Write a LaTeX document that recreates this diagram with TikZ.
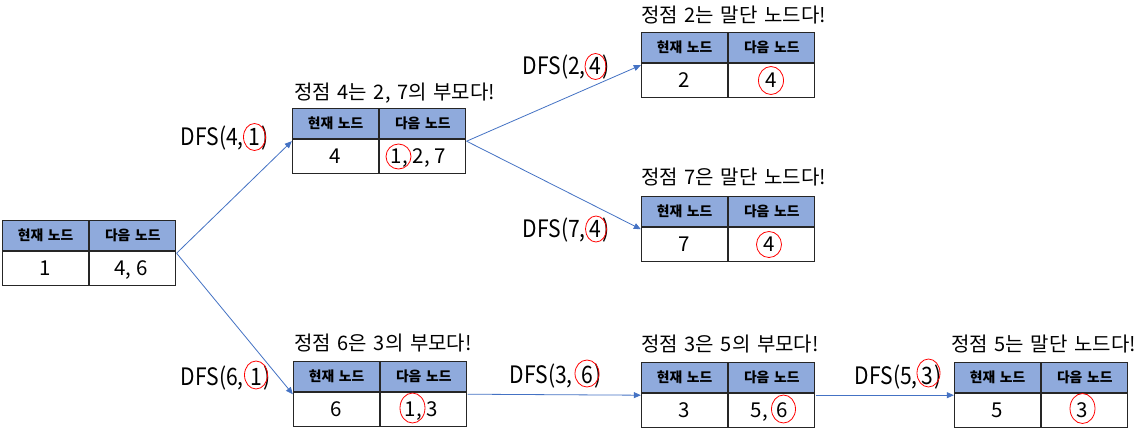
\documentclass[tikz,border=0pt]{standalone}
\usepackage{fontspec}
\setmainfont{Noto Sans CJK KR}
\newfontfamily\ttlfont[WordSpace=1.9]{Noto Sans CJK KR}
\newfontfamily\hdrfont[WordSpace=1.5]{Noto Sans CJK KR}
\newfontfamily\dfsfont[FakeStretch=0.88]{Noto Sans CJK KR}
\usetikzlibrary{arrows.meta,fit}
\definecolor{hdrblue}{HTML}{8FAADC}
\definecolor{arrblue}{HTML}{4472C4}
\definecolor{tblline}{HTML}{262626}
\newcommand{\mktable}[3]{%
  \node[hdr] (#1h1) at (#2,#3) {현재 노드};
  \node[hdr] (#1h2) at (#1h1.north east) {다음 노드};
  \node[valc] (#1v1) at (#1h1.south west) {};
  \node[valc] (#1v2) at (#1h2.south west) {};
  \node[fit=(#1h1)(#1v2), inner sep=0pt] (#1) {};
}
\begin{document}
\begin{tikzpicture}[x=1pt,y=-1pt,
  hdr/.style={draw=tblline, line width=1.2pt, fill=hdrblue, minimum width=86pt, minimum height=30pt, inner sep=0pt, anchor=north west, font=\hdrfont\fontsize{13.8}{14}\selectfont\bfseries},
  valc/.style={draw=tblline, line width=1.2pt, fill=white, minimum width=86pt, minimum height=34pt, inner sep=0pt, anchor=north west},
  vtxt/.style={inner sep=0pt, anchor=base, font=\fontsize{20.5}{22}\selectfont},
  vtail/.style={inner sep=0pt, anchor=base west, font=\fontsize{20.5}{22}\selectfont},
  vhead/.style={inner sep=0pt, anchor=base east, font=\fontsize{20.5}{22}\selectfont},
  ttl/.style={inner sep=0pt, anchor=base west, font=\ttlfont\fontsize{20}{22}\selectfont},
  dfsd/.style={inner sep=0pt, anchor=base, font=\dfsfont\fontsize{24}{26}\selectfont},
  dfsl/.style={inner sep=0pt, anchor=base east, font=\dfsfont\fontsize{24}{26}\selectfont},
  dfsr/.style={inner sep=0pt, anchor=base west, font=\dfsfont\fontsize{24}{26}\selectfont},
  ring/.style={draw=red, line width=0.8pt},
  link/.style={draw=arrblue, line width=0.8pt, -{Triangle[length=7pt,width=6pt]}},
]
\fill[white] (0,0) rectangle (1143,437);
\useasboundingbox (0,0) rectangle (1143,437);

% tables
\mktable{t1}{2}{220}
\mktable{t2}{292}{108}
\mktable{t3}{641}{32}
\mktable{t4}{641}{196}
\mktable{t5}{293}{361}
\mktable{t6}{641}{362}
\mktable{t7}{954}{362}

% titles
\node[ttl] (n2) at (294,99) {정점 4는 2, 7의 부모다!};
\node[ttl] (n3) at (641,22) {정점 2는 말단 노드다!};
\node[ttl] (n4) at (641,184) {정점 7은 말단 노드다!};
\node[ttl] (n5) at (294,350) {정점 6은 3의 부모다!};
\node[ttl] (n6) at (641,351) {정점 3은 5의 부모다!};
\node[ttl] (n7) at (951,351) {정점 5는 말단 노드다!};

% values
\node[vtxt] (t1a) at (45,275.5) {1};
\node[vtxt] (t1b) at (131,275.5) {4, 6};

\node[vtxt] (t2a) at (335,163.5) {4};
\node[vtxt] (t2c) at (396.5,163.5) {1};
\node[vtail] (t2d) at (t2c.base east) {, 2, 7};
\draw[ring] (398.5,156.5) ellipse [x radius=12.5, y radius=12.5];

\node[vtxt] (t3a) at (684,87.5) {2};
\node[vtxt] (t3c) at (771,87.5) {4};
\draw[ring] (771,80.5) ellipse [x radius=12.5, y radius=14];

\node[vtxt] (t4a) at (684,251.5) {7};
\node[vtxt] (t4c) at (769,251.5) {4};
\draw[ring] (769,244.5) ellipse [x radius=12.5, y radius=13];

\node[vtxt] (t5a) at (336.5,416.5) {6};
\node[vtxt] (t5c) at (410,416.5) {1};
\node[vtail] (t5d) at (t5c.base east) {, 3};
\draw[ring] (412.5,408) ellipse [x radius=12.5, y radius=15];

\node[vtxt] (t6a) at (684,417.5) {3};
\node[vtxt] (t6c) at (782,417.5) {6};
\node[vhead] (t6d) at ([xshift=-8pt]t6c.base west) {5,};
\draw[ring] (783.5,409) ellipse [x radius=12, y radius=14];

\node[vtxt] (t7a) at (997.5,417.5) {5};
\node[vtxt] (t7c) at (1082,417.5) {3};
\draw[ring] (1082.5,408.5) ellipse [x radius=12.5, y radius=15];

% DFS labels
\node[dfsd] (d41) at (254,145) {1};
\node[dfsl] (d41l) at (244,145) {DFS(4,};
\node[dfsr] (d41r) at ([xshift=1pt]d41.base east) {)};
\draw[ring] (254.5,137) ellipse [x radius=11, y radius=13.5];

\node[dfsd] (d24) at (595,74) {4};
\node[dfsl] (d24l) at (586,74) {DFS(2,};
\node[dfsr] (d24r) at ([xshift=1pt]d24.base east) {)};
\draw[ring] (595.5,66.5) ellipse [x radius=10.5, y radius=13];

\node[dfsd] (d74) at (595,237) {4};
\node[dfsl] (d74l) at (586,237) {DFS(7,};
\node[dfsr] (d74r) at ([xshift=1pt]d74.base east) {)};
\draw[ring] (596,229) ellipse [x radius=10.5, y radius=13];

\node[dfsd] (d61) at (256,385) {1};
\node[dfsl] (d61l) at (244,385) {DFS(6,};
\node[dfsr] (d61r) at ([xshift=1pt]d61.base east) {)};
\draw[ring] (256,375) ellipse [x radius=11.5, y radius=14];

\node[dfsd] (d36) at (587.5,383) {6};
\node[dfsl] (d36l) at (573,383) {DFS(3,};
\node[dfsr] (d36r) at ([xshift=1pt]d36.base east) {)};
\draw[ring] (587,373.5) ellipse [x radius=12, y radius=13.5];

\node[dfsd] (d53) at (927.5,384) {3};
\node[dfsl] (d53l) at (918,384) {DFS(5,};
\node[dfsr] (d53r) at ([xshift=1pt]d53.base east) {)};
\draw[ring] (928.5,373) ellipse [x radius=11.5, y radius=14];

% connectors
\draw[link] (t1.east) -- (t2.west);
\draw[link] (t1.east) -- (t5.west);
\draw[link] (t2.east) -- (t3.west);
\draw[link] (t2.east) -- (t4.west);
\draw[link] (t5.east) -- (t6.west);
\draw[link] (t6.east) -- (t7.west);
\end{tikzpicture}
\end{document}
